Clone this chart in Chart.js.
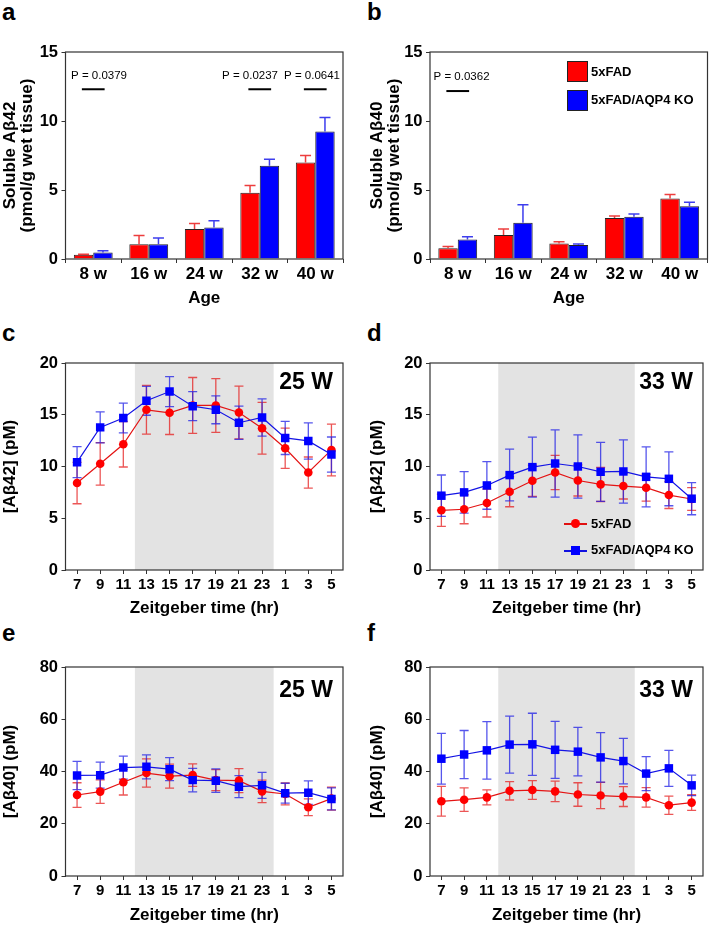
<!DOCTYPE html>
<html>
<head>
<meta charset="utf-8">
<script src="https://cdn.jsdelivr.net/npm/chart.js@4/dist/chart.umd.min.js"></script>
<style>
  html, body { margin:0; padding:0; background:#fff; }
  body { width:709px; height:926px; position:relative; overflow:hidden; font-family:'Liberation Sans', Arial, Helvetica, sans-serif; }
  canvas { position:absolute; }
  .plbl { position:absolute; font-size:24px; line-height:24px; font-weight:bold; color:#000; }
  .lg { position:absolute; font-size:13px; line-height:20px; font-weight:bold; color:#000; white-space:nowrap; }
  .box { position:absolute; width:19px; height:19px; border:1px solid #222; }
</style>
</head>
<body>
<div class="plbl" style="left:2px;top:0px">a</div>
<div class="plbl" style="left:367px;top:0px">b</div>
<div class="plbl" style="left:2px;top:321px">c</div>
<div class="plbl" style="left:367px;top:321px">d</div>
<div class="plbl" style="left:2px;top:621px">e</div>
<div class="plbl" style="left:367px;top:621px">f</div>

<canvas id="ca" width="354" height="310" style="left:0;top:0"></canvas>
<canvas id="cb" width="355" height="310" style="left:354px;top:0"></canvas>
<canvas id="cc" width="354" height="312" style="left:0;top:310px"></canvas>
<canvas id="cd" width="355" height="312" style="left:354px;top:310px"></canvas>
<canvas id="ce" width="354" height="304" style="left:0;top:622px"></canvas>
<canvas id="cf" width="355" height="304" style="left:354px;top:622px"></canvas>

<!-- legend panel b -->
<div class="box" style="left:567px;top:61px;background:#ff0000"></div>
<div class="lg" style="left:591px;top:62px">5xFAD</div>
<div class="box" style="left:567px;top:90px;background:#0000ff"></div>
<div class="lg" style="left:591px;top:90px">5xFAD/AQP4 KO</div>

<!-- legend panel d -->
<div style="position:absolute;left:564px;top:523px;width:23px;height:1.5px;background:#e01010"></div>
<div style="position:absolute;left:570.5px;top:519px;width:9px;height:9px;border-radius:50%;background:#ff0000"></div>
<div class="lg" style="left:591px;top:514px">5xFAD</div>
<div style="position:absolute;left:564px;top:550px;width:23px;height:1.5px;background:#1010e0"></div>
<div style="position:absolute;left:570.5px;top:546px;width:9px;height:9px;background:#0000ff"></div>
<div class="lg" style="left:591px;top:540px">5xFAD/AQP4 KO</div>

<script>
// ---------------- DATA ----------------
const ageLabels = ['8 w', '16 w', '24 w', '32 w', '40 w'];

// panel a: soluble Abeta42 (pmol/g wet tissue)
const a42_5xFAD     = [0.30, 1.06, 2.17, 4.80, 6.99];
const a42_5xFAD_err = [0.05, 0.65, 0.41, 0.53, 0.51];
const a42_KO        = [0.48, 1.06, 2.29, 6.75, 9.24];
const a42_KO_err    = [0.12, 0.46, 0.48, 0.48, 1.01];
const a42_pCats     = [0, 3, 4];
const a42_pLabels   = ['P = 0.0379', 'P = 0.0237', 'P = 0.0641'];

// panel b: soluble Abeta40 (pmol/g wet tissue)
const a40_5xFAD     = [0.77, 1.74, 1.13, 2.97, 4.39];
const a40_5xFAD_err = [0.13, 0.43, 0.12, 0.14, 0.29];
const a40_KO        = [1.42, 2.63, 1.01, 3.06, 3.83];
const a40_KO_err    = [0.20, 1.30, 0.08, 0.20, 0.29];
const a40_pCats     = [0];
const a40_pLabels   = ['P = 0.0362'];

// Zeitgeber time
const ztLabels = ['7', '9', '11', '13', '15', '17', '19', '21', '23', '1', '3', '5'];
const ztHours  = [7, 9, 11, 13, 15, 17, 19, 21, 23, 25, 27, 29];
const darkPhase = [12, 24];

// panel c: [Abeta42] 25 W
const c_5xFAD     = [8.4, 10.26, 12.15, 15.48, 15.19, 15.9, 15.9, 15.22, 13.7, 11.76, 9.42, 11.6];
const c_5xFAD_err = [2.0, 2.05, 2.2, 2.35, 2.1, 2.7, 2.6, 2.55, 2.5, 1.95, 1.5, 2.5];
const c_KO        = [10.42, 13.78, 14.68, 16.35, 17.24, 15.83, 15.48, 14.23, 14.74, 12.76, 12.47, 11.15];
const c_KO_err    = [1.5, 1.5, 1.44, 1.4, 1.45, 1.4, 1.35, 1.6, 1.8, 1.6, 1.75, 1.7];

// panel d: [Abeta42] 33 W
const d_5xFAD     = [5.77, 5.87, 6.47, 7.56, 8.62, 9.42, 8.65, 8.27, 8.11, 7.95, 7.24, 6.86];
const d_5xFAD_err = [1.55, 1.4, 1.35, 1.45, 1.5, 1.65, 1.5, 1.65, 1.25, 1.3, 1.3, 1.1];
const d_KO        = [7.18, 7.5, 8.17, 9.17, 9.94, 10.29, 10.0, 9.49, 9.52, 9.0, 8.81, 6.89];
const d_KO_err    = [2.0, 2.0, 2.3, 2.5, 2.9, 3.25, 3.05, 2.85, 3.05, 2.9, 2.6, 1.55];

// panel e: [Abeta40] 25 W
const e_5xFAD     = [31.0, 32.3, 35.9, 39.4, 38.2, 38.6, 36.7, 36.5, 32.4, 31.4, 26.3, 29.6];
const e_5xFAD_err = [4.7, 4.5, 4.9, 5.4, 4.6, 4.3, 4.0, 4.6, 4.3, 4.2, 3.2, 4.4];
const e_KO        = [38.5, 38.6, 41.5, 41.8, 40.9, 36.7, 36.5, 34.2, 34.7, 31.7, 31.9, 29.5];
const e_KO_err    = [5.4, 5.0, 4.4, 4.6, 4.4, 4.5, 4.5, 4.2, 5.0, 3.8, 4.5, 4.2];

// panel f: [Abeta40] 33 W
const f_5xFAD     = [28.6, 29.2, 30.1, 32.6, 32.9, 32.4, 31.2, 30.8, 30.4, 30.1, 27.1, 28.1];
const f_5xFAD_err = [5.7, 4.5, 2.9, 3.5, 3.6, 3.9, 4.5, 5.0, 3.8, 3.7, 3.5, 3.0];
const f_KO        = [44.9, 46.5, 48.1, 50.3, 50.4, 48.3, 47.6, 45.4, 44.0, 39.2, 41.2, 34.7];
const f_KO_err    = [9.7, 9.2, 11.0, 10.9, 11.9, 10.9, 9.3, 9.5, 8.7, 6.5, 6.9, 3.9];

// ---------------- STYLE ----------------
const FONT = "'Liberation Sans', Arial, Helvetica, sans-serif";
const RED = '#ff0000', BLUE = '#0000ff';
const RED_LINE = '#e41414', BLUE_LINE = '#1414e4';
const RED_ERR_BAR = 'rgba(235,40,40,0.9)', BLUE_ERR_BAR = 'rgba(40,40,235,0.9)';
const RED_ERR = 'rgba(230,30,30,0.75)', BLUE_ERR = 'rgba(30,30,230,0.75)';
const AXIS = '#333';

// ---------------- PLUGINS ----------------
const boxPlugin = {
  id: 'box',
  afterDraw(chart) {
    const { ctx, chartArea: a } = chart;
    ctx.save();
    ctx.strokeStyle = AXIS;
    ctx.lineWidth = 1.2;
    ctx.strokeRect(a.left, a.top, a.right - a.left, a.bottom - a.top);
    ctx.restore();
  }
};

function errPlugin(mode, cap, width, when) {
  function draw(chart) {
    const ctx = chart.ctx, y = chart.scales.y;
    ctx.save();
    ctx.lineWidth = width;
    chart.data.datasets.forEach((ds, di) => {
      const meta = chart.getDatasetMeta(di);
      ctx.strokeStyle = ds.errColor;
      meta.data.forEach((el, i) => {
        const v = ds.data[i], e = ds.errors[i];
        const x = el.x;
        const yt = y.getPixelForValue(v + e);
        const yb = mode === 'up' ? y.getPixelForValue(v) : y.getPixelForValue(v - e);
        ctx.beginPath();
        ctx.moveTo(x, yb); ctx.lineTo(x, yt);
        ctx.moveTo(x - cap, yt); ctx.lineTo(x + cap, yt);
        if (mode !== 'up') { ctx.moveTo(x - cap, yb); ctx.lineTo(x + cap, yb); }
        ctx.stroke();
      });
    });
    ctx.restore();
  }
  return {
    id: 'errbars',
    beforeDatasetsDraw(chart) { if (when === 'before') draw(chart); },
    afterDatasetsDraw(chart) { if (when === 'after') draw(chart); }
  };
}

function shadePlugin() {
  return {
    id: 'shade',
    beforeDatasetsDraw(chart) {
      const { ctx, chartArea: a } = chart;
      const x = chart.scales.x;
      const pix = h => {
        let i = 0;
        while (i < ztHours.length - 2 && ztHours[i + 1] < h) i++;
        const f = (h - ztHours[i]) / (ztHours[i + 1] - ztHours[i]);
        return x.getPixelForValue(i) + f * (x.getPixelForValue(i + 1) - x.getPixelForValue(i));
      };
      const x0 = pix(darkPhase[0]), x1 = pix(darkPhase[1]);
      ctx.save();
      ctx.fillStyle = '#e3e3e3';
      ctx.fillRect(x0, a.top, x1 - x0, a.bottom - a.top);
      ctx.restore();
    }
  };
}

function cornerPlugin(text, dy) {
  return {
    id: 'corner',
    afterDraw(chart) {
      const { ctx, chartArea: a } = chart;
      ctx.save();
      ctx.font = 'bold 23px ' + FONT;
      ctx.fillStyle = '#000';
      ctx.textAlign = 'right';
      ctx.textBaseline = 'alphabetic';
      ctx.fillText(text, a.right - 10, a.top + dy);
      ctx.restore();
    }
  };
}

function pPlugin(cats, labels, lineVal, textVal, dxs) {
  return {
    id: 'pvals',
    afterDatasetsDraw(chart) {
      const { ctx } = chart;
      const x = chart.scales.x, y = chart.scales.y;
      const step = x.getPixelForValue(1) - x.getPixelForValue(0);
      ctx.save();
      ctx.strokeStyle = '#000';
      ctx.fillStyle = '#000';
      ctx.lineWidth = 2;
      ctx.font = '11.5px ' + FONT;
      ctx.textAlign = 'center';
      ctx.textBaseline = 'middle';
      cats.forEach((c, k) => {
        const cx = x.getPixelForValue(c);
        const ly = y.getPixelForValue(lineVal);
        ctx.beginPath();
        ctx.moveTo(cx - 0.205 * step, ly);
        ctx.lineTo(cx + 0.205 * step, ly);
        ctx.stroke();
        ctx.fillText(labels[k], cx + dxs[k], y.getPixelForValue(textVal));
      });
      ctx.restore();
    }
  };
}

// ---------------- BUILDER ----------------
function scalesFor(g, o) {
  return {
    x: {
      type: 'category',
      offset: true,
      grid: { display: true, drawOnChartArea: false, drawTicks: true, tickLength: 4, offset: o.isBar, color: AXIS, lineWidth: 1 },
      border: { display: false },
      ticks: { color: '#000', font: { family: FONT, weight: 'bold', size: o.xFont }, padding: o.xPad, maxRotation: 0, minRotation: 0, autoSkip: false },
      title: { display: true, text: o.xTitle, color: '#000', font: { family: FONT, weight: 'bold', size: 17, lineHeight: 1.2 }, padding: { top: 0, bottom: o.xTitlePadB } },
      afterFit: s => { s.height = g.T + g.H - g.y1; }
    },
    y: {
      min: 0, max: o.yMax,
      grid: { display: true, drawOnChartArea: false, drawTicks: true, tickLength: 4, color: AXIS, lineWidth: 1 },
      border: { display: false },
      ticks: { stepSize: o.yStep, color: '#000', font: { family: FONT, weight: 'bold', size: 16.5 }, padding: 3.5 },
      title: { display: true, text: o.yTitle, color: '#000', font: { family: FONT, weight: 'bold', size: 17, lineHeight: 1.0 }, padding: { top: o.yTitlePad, bottom: 0 } },
      afterFit: s => { s.width = g.x0 - g.L; }
    }
  };
}

function layoutFor(g) {
  return { padding: { left: 0, top: g.y0 - g.T, right: g.L + g.W - g.x1, bottom: 0 } };
}

function barChart(id, g, o, d1, e1, d2, e2, plugins) {
  return new Chart(document.getElementById(id), {
    type: 'bar',
    data: {
      labels: ageLabels,
      datasets: [
        { label: '5xFAD', data: d1, errors: e1, errColor: RED_ERR_BAR, backgroundColor: RED, borderColor: '#222', borderWidth: 1, categoryPercentage: 0.7, barPercentage: 1.0 },
        { label: '5xFAD/AQP4 KO', data: d2, errors: e2, errColor: BLUE_ERR_BAR, backgroundColor: BLUE, borderColor: '#222', borderWidth: 1, categoryPercentage: 0.7, barPercentage: 1.0 }
      ]
    },
    options: {
      responsive: false, animation: false, devicePixelRatio: 1,
      layout: layoutFor(g),
      plugins: { legend: { display: false }, tooltip: { enabled: false } },
      scales: scalesFor(g, o)
    },
    plugins: [errPlugin('up', 5.5, 1.5, 'after'), boxPlugin].concat(plugins)
  });
}

function lineChart(id, g, o, d1, e1, d2, e2, corner, cornerDy) {
  return new Chart(document.getElementById(id), {
    type: 'line',
    data: {
      labels: ztLabels,
      datasets: [
        { label: '5xFAD', data: d1, errors: e1, errColor: RED_ERR, order: 1, borderColor: RED_LINE, borderWidth: 1.2, pointStyle: 'circle', pointRadius: 4.3, pointBackgroundColor: RED, pointBorderColor: RED, pointBorderWidth: 0, tension: 0, fill: false },
        { label: '5xFAD/AQP4 KO', data: d2, errors: e2, errColor: BLUE_ERR, order: 0, borderColor: BLUE_LINE, borderWidth: 1.2, pointStyle: 'rect', pointRadius: 6, pointBackgroundColor: BLUE, pointBorderColor: BLUE, pointBorderWidth: 0, tension: 0, fill: false }
      ]
    },
    options: {
      responsive: false, animation: false, devicePixelRatio: 1,
      layout: layoutFor(g),
      plugins: { legend: { display: false }, tooltip: { enabled: false } },
      scales: scalesFor(g, o)
    },
    plugins: [shadePlugin(), errPlugin('both', 4.5, 1.3, 'before'), boxPlugin, cornerPlugin(corner, cornerDy)]
  });
}

// ---------------- PANELS ----------------
const gA = { L: 0,   T: 0, W: 354, H: 310, x0: 65.5, x1: 343,   y0: 52, y1: 259 };
const gB = { L: 354, T: 0, W: 355, H: 310, x0: 430,  x1: 707.5, y0: 52, y1: 259 };
const gC = { L: 0,   T: 310, W: 354, H: 312, x0: 65.5, x1: 343,   y0: 363, y1: 570 };
const gD = { L: 354, T: 310, W: 355, H: 312, x0: 430,  x1: 707.5, y0: 363, y1: 570 };
const gE = { L: 0,   T: 622, W: 354, H: 304, x0: 65.5, x1: 343,   y0: 667, y1: 876 };
const gF = { L: 354, T: 622, W: 355, H: 304, x0: 430,  x1: 707.5, y0: 667, y1: 876 };

const barOptsA = { isBar: true, xFont: 17, xPad: 1, xTitle: 'Age', xTitlePadB: 1.8, yMax: 15, yStep: 5, yTitle: ['Soluble A\u03B242', '(pmol/g wet tissue)'], yTitlePad: 1.5 };
const barOptsB = Object.assign({}, barOptsA, { yTitle: ['Soluble A\u03B240', '(pmol/g wet tissue)'], yTitlePad: 14.5 });

barChart('ca', gA, barOptsA, a42_5xFAD, a42_5xFAD_err, a42_KO, a42_KO_err,
  [pPlugin(a42_pCats, a42_pLabels, 12.3, 13.26, [5.75, -9.75, -3.25])]);
barChart('cb', gB, barOptsB, a40_5xFAD, a40_5xFAD_err, a40_KO, a40_KO_err,
  [pPlugin(a40_pCats, a40_pLabels, 12.17, 13.17, [3.8])]);

const lineOpts42L = { isBar: false, xFont: 15, xPad: 2, xTitle: 'Zeitgeber time (hr)', xTitlePadB: 3.8, yMax: 20, yStep: 5, yTitle: '[A\u03B242] (pM)', yTitlePad: 1.5 };
const lineOpts42R = Object.assign({}, lineOpts42L, { yTitlePad: 14.5 });
const lineOpts40L = Object.assign({}, lineOpts42L, { yMax: 80, yStep: 20, yTitle: '[A\u03B240] (pM)', xTitlePadB: 0.8 });
const lineOpts40R = Object.assign({}, lineOpts40L, { yTitlePad: 14.5 });

lineChart('cc', gC, lineOpts42L, c_5xFAD, c_5xFAD_err, c_KO, c_KO_err, '25 W', 26);
lineChart('cd', gD, lineOpts42R, d_5xFAD, d_5xFAD_err, d_KO, d_KO_err, '33 W', 26);
lineChart('ce', gE, lineOpts40L, e_5xFAD, e_5xFAD_err, e_KO, e_KO_err, '25 W', 30);
lineChart('cf', gF, lineOpts40R, f_5xFAD, f_5xFAD_err, f_KO, f_KO_err, '33 W', 30);
</script>
</body>
</html>
